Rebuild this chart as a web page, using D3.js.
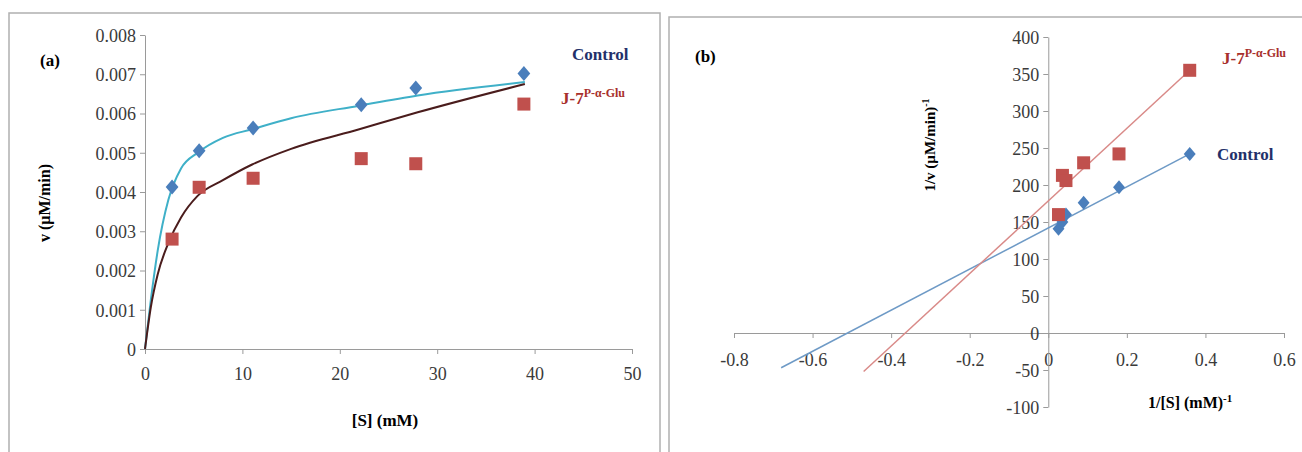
<!DOCTYPE html>
<html>
<head>
<meta charset="utf-8">
<script src="https://cdn.jsdelivr.net/npm/d3@7"></script>
<style>
  body { margin: 0; background: #fff; }
  svg { display: block; font-family: "Liberation Serif", "Times New Roman", serif; }
  .tick text { fill: #3a3a3a; font-size: 18px; font-family: "Liberation Serif", "Times New Roman", serif; }
  .domain, .tick line { stroke: #9a9a9a; }
</style>
</head>
<body>
<svg id="chart" width="1302" height="452"></svg>
<script>
// substrate concentrations [S] (mM) and velocities v (uM/min), panel (a)
var sValues = [2.78, 5.56, 11.1, 22.2, 27.8, 38.9];
var controlV = [0.00413, 0.00505, 0.00563, 0.00622, 0.00665, 0.00702];
var j7V = [0.0028, 0.00412, 0.00435, 0.00485, 0.00472, 0.00624];

// fitted curves
var curveS = [0, 0.6, 1.3, 2.4, 3.7, 5.4, 8, 11, 15, 22, 28, 39];
var controlCurveV = [0, 0.00125, 0.0025, 0.0038, 0.0046, 0.005, 0.00538, 0.0056, 0.00588, 0.0062, 0.00646, 0.0068];
var j7CurveV = [0, 0.00107, 0.0019, 0.0027, 0.00335, 0.0039, 0.0043, 0.0047, 0.0051, 0.0056, 0.00603, 0.00675];

// Lineweaver-Burk, panel (b)
var invS = [0.026, 0.036, 0.045, 0.09, 0.18, 0.36];
var controlInvV = [141, 150, 160, 176, 197, 242];
var j7InvV = [160, 213, 206, 230, 242, 355];
var controlLineX = [-0.68, 0.36], controlLineY = [-47, 242];
var j7LineX = [-0.47, 0.36], j7LineY = [-52, 355];

var ticksA_x = [0, 10, 20, 30, 40, 50];
var ticksA_y = [0, 0.001, 0.002, 0.003, 0.004, 0.005, 0.006, 0.007, 0.008];
var ticksB_x = [-0.8, -0.6, -0.4, -0.2, 0, 0.2, 0.4, 0.6];
var ticksB_y = [-100, -50, 0, 50, 100, 150, 200, 250, 300, 350, 400];

var blue = "#4a7ebb", red = "#c0504d";
var svg = d3.select("#chart");

// panel frames
svg.append("rect").attr("x", 9).attr("y", 13).attr("width", 651).attr("height", 460)
    .attr("fill", "none").attr("stroke", "#b0b0b0").attr("stroke-width", 1.5);
svg.append("rect").attr("x", 669).attr("y", 17).attr("width", 640).attr("height", 460)
    .attr("fill", "none").attr("stroke", "#b0b0b0").attr("stroke-width", 1.5);

function diamond(g, x, y, r, color) {
    g.append("path")
        .attr("d", "M" + x + "," + (y - r) + "L" + (x + r * 0.85) + "," + y + "L" + x + "," + (y + r) + "L" + (x - r * 0.85) + "," + y + "Z")
        .attr("fill", color);
}
function square(g, x, y, s, color) {
    g.append("rect").attr("x", x - s / 2).attr("y", y - s / 2).attr("width", s).attr("height", s)
        .attr("fill", color);
}
function seriesLabel(x, y, color) {
    var t = svg.append("text").attr("x", x).attr("y", y).attr("fill", color)
        .attr("font-weight", "bold").attr("font-size", 17);
    t.append("tspan").text("J-7");
    t.append("tspan").attr("dy", -7).attr("font-size", 12).text("P-α-Glu");
}
function serif(g) {
    g.attr("font-family", null).attr("font-size", null);
}

// ---------- panel (a) ----------
var xa = d3.scaleLinear().domain([0, 50]).range([145, 632]);
var ya = d3.scaleLinear().domain([0, 0.008]).range([349, 35]);

svg.append("g").attr("transform", "translate(0,349)")
    .call(d3.axisBottom(xa).tickValues(ticksA_x).tickSize(5).tickSizeOuter(0).tickPadding(8))
    .call(serif)
    .call(g => g.selectAll(".tick text").attr("dy", "1em"));
svg.append("g").attr("transform", "translate(145,0)")
    .call(d3.axisLeft(ya).tickValues(ticksA_y).tickSize(5).tickSizeOuter(0).tickPadding(4)
        .tickFormat(d => d === 0 ? "0" : d3.format(".3f")(d)))
    .call(serif)
    .call(g => g.selectAll(".tick text").attr("dy", "0.35em"));

var lineA = d3.line().x(d => xa(d[0])).y(d => ya(d[1])).curve(d3.curveMonotoneX);
var ga = svg.append("g");
ga.append("path").datum(d3.zip(curveS, controlCurveV)).attr("d", lineA)
    .attr("fill", "none").attr("stroke", "#3fb0c8").attr("stroke-width", 2);
ga.append("path").datum(d3.zip(curveS, j7CurveV)).attr("d", lineA)
    .attr("fill", "none").attr("stroke", "#4a1c1c").attr("stroke-width", 2);
sValues.forEach((s, i) => diamond(ga, xa(s), ya(controlV[i]), 7.5, blue));
sValues.forEach((s, i) => square(ga, xa(s), ya(j7V[i]), 13, red));

svg.append("text").attr("x", 40).attr("y", 66).attr("font-weight", "bold").attr("font-size", 17).text("(a)");
svg.append("text").attr("x", 572).attr("y", 60).attr("font-weight", "bold").attr("font-size", 17)
    .attr("fill", "#23306a").text("Control");
seriesLabel(561, 104, "#a8302c");
svg.append("text").attr("transform", "translate(50,203) rotate(-90)").attr("text-anchor", "middle")
    .attr("font-weight", "bold").attr("font-size", 16).text("v (µM/min)");
svg.append("text").attr("x", 385).attr("y", 426).attr("text-anchor", "middle")
    .attr("font-weight", "bold").attr("font-size", 17).text("[S] (mM)");

// ---------- panel (b) ----------
var xb = d3.scaleLinear().domain([-0.8, 0.6]).range([734, 1284]);
var yb = d3.scaleLinear().domain([-100, 400]).range([407, 37]);

svg.append("g").attr("transform", "translate(0," + yb(0) + ")")
    .call(d3.axisBottom(xb).tickValues(ticksB_x).tickSize(5).tickSizeOuter(0).tickPadding(10)
        .tickFormat(d => d === 0 ? "0" : d3.format(".1f")(d).replace("−", "-")))
    .call(serif)
    .call(g => g.selectAll(".tick text").attr("dy", "1em"));
svg.append("g").attr("transform", "translate(" + xb(0) + ",0)")
    .call(d3.axisLeft(yb).tickValues(ticksB_y).tickSize(5).tickSizeOuter(0).tickPadding(4)
        .tickFormat(d => String(d)))
    .call(serif)
    .call(g => g.selectAll(".tick text").attr("dy", "0.35em"));

var lineB = d3.line().x(d => xb(d[0])).y(d => yb(d[1]));
var gb = svg.append("g");
gb.append("path").datum(d3.zip(controlLineX, controlLineY)).attr("d", lineB)
    .attr("fill", "none").attr("stroke", "#6e9ac6").attr("stroke-width", 1.5);
gb.append("path").datum(d3.zip(j7LineX, j7LineY)).attr("d", lineB)
    .attr("fill", "none").attr("stroke", "#d98a88").attr("stroke-width", 1.5);
invS.forEach((s, i) => diamond(gb, xb(s), yb(controlInvV[i]), 7, blue));
invS.forEach((s, i) => square(gb, xb(s), yb(j7InvV[i]), 13, red));

svg.append("text").attr("x", 695).attr("y", 62).attr("font-weight", "bold").attr("font-size", 17).text("(b)");
seriesLabel(1222, 64, "#a8302c");
svg.append("text").attr("x", 1217).attr("y", 160).attr("font-weight", "bold").attr("font-size", 17)
    .attr("fill", "#23306a").text("Control");
var yt = svg.append("text").attr("transform", "translate(935,145) rotate(-90)").attr("text-anchor", "middle")
    .attr("font-weight", "bold").attr("font-size", 15);
yt.append("tspan").text("1/v (µM/min)");
yt.append("tspan").attr("dy", -6).attr("font-size", 10).text("-1");
var xt = svg.append("text").attr("x", 1148).attr("y", 408).attr("font-weight", "bold").attr("font-size", 16);
xt.append("tspan").text("1/[S] (mM)");
xt.append("tspan").attr("dy", -6).attr("font-size", 11).text("-1");
</script>
</body>
</html>
